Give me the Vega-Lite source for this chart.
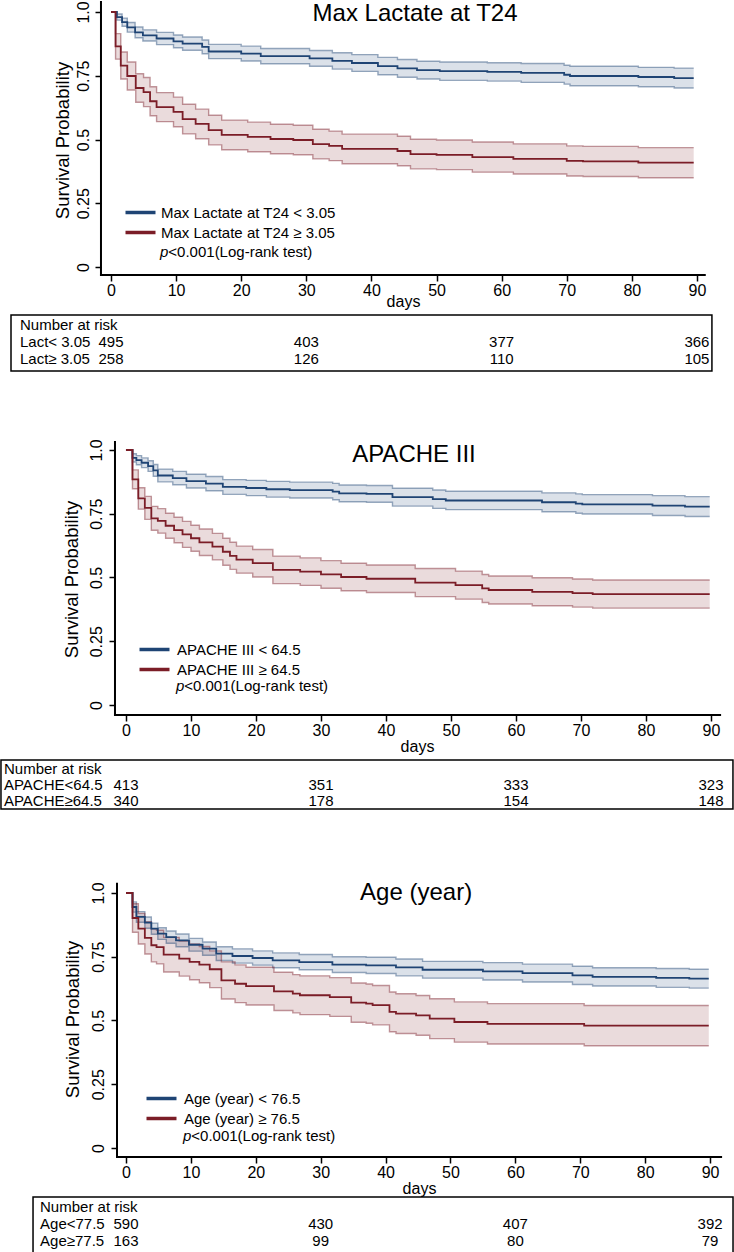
{
"$schema": "https://vega.github.io/schema/vega-lite/v6.json",
"padding": 0,
"autosize": {"type": "pad"},
"bounds": "flush",
"spacing": 0,
"resolve": {"scale": {"color": "independent", "fill": "independent", "stroke": "independent"}, "legend": {"color": "independent", "fill": "independent", "stroke": "independent"}},
"config": {"view": {"stroke": null}, "font": "Liberation Sans", "text": {"font": "Liberation Sans", "color": "black"}, "legend": {"labelFont": "Liberation Sans"}, "axis": {"labelFont": "Liberation Sans", "titleFont": "Liberation Sans"}},
"datasets": {
"km1": [
{"grp":"Max Lactate at T24 < 3.05","day":0,"s":1,"lo":1,"hi":1},
{"grp":"Max Lactate at T24 < 3.05","day":0.9,"s":0.98,"lo":0.968,"hi":0.992},
{"grp":"Max Lactate at T24 < 3.05","day":1.7,"s":0.96,"lo":0.944,"hi":0.976},
{"grp":"Max Lactate at T24 < 3.05","day":2.5,"s":0.94,"lo":0.921,"hi":0.959},
{"grp":"Max Lactate at T24 < 3.05","day":3.7,"s":0.92,"lo":0.899,"hi":0.941},
{"grp":"Max Lactate at T24 < 3.05","day":4.9,"s":0.908,"lo":0.886,"hi":0.93},
{"grp":"Max Lactate at T24 < 3.05","day":7,"s":0.896,"lo":0.872,"hi":0.92},
{"grp":"Max Lactate at T24 < 3.05","day":9.6,"s":0.885,"lo":0.86,"hi":0.91},
{"grp":"Max Lactate at T24 < 3.05","day":11,"s":0.876,"lo":0.85,"hi":0.902},
{"grp":"Max Lactate at T24 < 3.05","day":14,"s":0.863,"lo":0.836,"hi":0.89},
{"grp":"Max Lactate at T24 < 3.05","day":15,"s":0.845,"lo":0.817,"hi":0.873},
{"grp":"Max Lactate at T24 < 3.05","day":20,"s":0.837,"lo":0.808,"hi":0.866},
{"grp":"Max Lactate at T24 < 3.05","day":23,"s":0.827,"lo":0.797,"hi":0.857},
{"grp":"Max Lactate at T24 < 3.05","day":30.5,"s":0.818,"lo":0.787,"hi":0.849},
{"grp":"Max Lactate at T24 < 3.05","day":34,"s":0.808,"lo":0.776,"hi":0.84},
{"grp":"Max Lactate at T24 < 3.05","day":37,"s":0.8,"lo":0.767,"hi":0.833},
{"grp":"Max Lactate at T24 < 3.05","day":41,"s":0.788,"lo":0.754,"hi":0.822},
{"grp":"Max Lactate at T24 < 3.05","day":44,"s":0.779,"lo":0.744,"hi":0.814},
{"grp":"Max Lactate at T24 < 3.05","day":47,"s":0.772,"lo":0.737,"hi":0.807},
{"grp":"Max Lactate at T24 < 3.05","day":50.5,"s":0.768,"lo":0.732,"hi":0.804},
{"grp":"Max Lactate at T24 < 3.05","day":57.8,"s":0.765,"lo":0.729,"hi":0.801},
{"grp":"Max Lactate at T24 < 3.05","day":63,"s":0.761,"lo":0.724,"hi":0.798},
{"grp":"Max Lactate at T24 < 3.05","day":69.6,"s":0.754,"lo":0.717,"hi":0.791},
{"grp":"Max Lactate at T24 < 3.05","day":70.5,"s":0.749,"lo":0.711,"hi":0.787},
{"grp":"Max Lactate at T24 < 3.05","day":81,"s":0.745,"lo":0.707,"hi":0.783},
{"grp":"Max Lactate at T24 < 3.05","day":86.5,"s":0.741,"lo":0.702,"hi":0.78},
{"grp":"Max Lactate at T24 < 3.05","day":89.5,"s":0.741,"lo":0.702,"hi":0.78},
{"grp":"Max Lactate at T24 ≥ 3.05","day":0,"s":1,"lo":1,"hi":1},
{"grp":"Max Lactate at T24 ≥ 3.05","day":0.7,"s":0.865,"lo":0.815,"hi":0.915},
{"grp":"Max Lactate at T24 ≥ 3.05","day":1.5,"s":0.79,"lo":0.737,"hi":0.843},
{"grp":"Max Lactate at T24 ≥ 3.05","day":2.5,"s":0.749,"lo":0.694,"hi":0.804},
{"grp":"Max Lactate at T24 ≥ 3.05","day":3.8,"s":0.702,"lo":0.646,"hi":0.758},
{"grp":"Max Lactate at T24 ≥ 3.05","day":5,"s":0.686,"lo":0.629,"hi":0.743},
{"grp":"Max Lactate at T24 ≥ 3.05","day":6,"s":0.65,"lo":0.593,"hi":0.707},
{"grp":"Max Lactate at T24 ≥ 3.05","day":7,"s":0.627,"lo":0.57,"hi":0.684},
{"grp":"Max Lactate at T24 ≥ 3.05","day":9.6,"s":0.608,"lo":0.55,"hi":0.666},
{"grp":"Max Lactate at T24 ≥ 3.05","day":11,"s":0.58,"lo":0.522,"hi":0.638},
{"grp":"Max Lactate at T24 ≥ 3.05","day":13,"s":0.561,"lo":0.503,"hi":0.619},
{"grp":"Max Lactate at T24 ≥ 3.05","day":15,"s":0.537,"lo":0.479,"hi":0.595},
{"grp":"Max Lactate at T24 ≥ 3.05","day":17,"s":0.518,"lo":0.46,"hi":0.576},
{"grp":"Max Lactate at T24 ≥ 3.05","day":21,"s":0.51,"lo":0.452,"hi":0.568},
{"grp":"Max Lactate at T24 ≥ 3.05","day":24.5,"s":0.502,"lo":0.444,"hi":0.56},
{"grp":"Max Lactate at T24 ≥ 3.05","day":28,"s":0.498,"lo":0.44,"hi":0.556},
{"grp":"Max Lactate at T24 ≥ 3.05","day":31,"s":0.482,"lo":0.424,"hi":0.54},
{"grp":"Max Lactate at T24 ≥ 3.05","day":33.5,"s":0.475,"lo":0.417,"hi":0.533},
{"grp":"Max Lactate at T24 ≥ 3.05","day":35.5,"s":0.463,"lo":0.405,"hi":0.521},
{"grp":"Max Lactate at T24 ≥ 3.05","day":44,"s":0.455,"lo":0.397,"hi":0.513},
{"grp":"Max Lactate at T24 ≥ 3.05","day":46,"s":0.443,"lo":0.385,"hi":0.501},
{"grp":"Max Lactate at T24 ≥ 3.05","day":50,"s":0.44,"lo":0.382,"hi":0.498},
{"grp":"Max Lactate at T24 ≥ 3.05","day":55.5,"s":0.431,"lo":0.372,"hi":0.49},
{"grp":"Max Lactate at T24 ≥ 3.05","day":61.8,"s":0.424,"lo":0.365,"hi":0.483},
{"grp":"Max Lactate at T24 ≥ 3.05","day":70,"s":0.416,"lo":0.357,"hi":0.475},
{"grp":"Max Lactate at T24 ≥ 3.05","day":72.5,"s":0.414,"lo":0.355,"hi":0.473},
{"grp":"Max Lactate at T24 ≥ 3.05","day":81,"s":0.409,"lo":0.35,"hi":0.468},
{"grp":"Max Lactate at T24 ≥ 3.05","day":89.5,"s":0.409,"lo":0.35,"hi":0.468}
],
"km2": [
{"grp":"APACHE III < 64.5","day":0,"s":1,"lo":1,"hi":1},
{"grp":"APACHE III < 64.5","day":1,"s":0.969,"lo":0.953,"hi":0.985},
{"grp":"APACHE III < 64.5","day":1.6,"s":0.96,"lo":0.942,"hi":0.978},
{"grp":"APACHE III < 64.5","day":2.4,"s":0.95,"lo":0.931,"hi":0.969},
{"grp":"APACHE III < 64.5","day":3.4,"s":0.937,"lo":0.916,"hi":0.958},
{"grp":"APACHE III < 64.5","day":4.2,"s":0.92,"lo":0.897,"hi":0.943},
{"grp":"APACHE III < 64.5","day":4.9,"s":0.9,"lo":0.875,"hi":0.925},
{"grp":"APACHE III < 64.5","day":7.2,"s":0.89,"lo":0.864,"hi":0.916},
{"grp":"APACHE III < 64.5","day":9.3,"s":0.878,"lo":0.851,"hi":0.905},
{"grp":"APACHE III < 64.5","day":12.3,"s":0.868,"lo":0.84,"hi":0.896},
{"grp":"APACHE III < 64.5","day":14.9,"s":0.855,"lo":0.826,"hi":0.884},
{"grp":"APACHE III < 64.5","day":18.5,"s":0.851,"lo":0.821,"hi":0.881},
{"grp":"APACHE III < 64.5","day":21.6,"s":0.846,"lo":0.815,"hi":0.877},
{"grp":"APACHE III < 64.5","day":25.2,"s":0.843,"lo":0.812,"hi":0.874},
{"grp":"APACHE III < 64.5","day":31.8,"s":0.837,"lo":0.805,"hi":0.869},
{"grp":"APACHE III < 64.5","day":32.8,"s":0.83,"lo":0.797,"hi":0.863},
{"grp":"APACHE III < 64.5","day":37,"s":0.828,"lo":0.795,"hi":0.861},
{"grp":"APACHE III < 64.5","day":41,"s":0.815,"lo":0.78,"hi":0.85},
{"grp":"APACHE III < 64.5","day":47.2,"s":0.807,"lo":0.771,"hi":0.843},
{"grp":"APACHE III < 64.5","day":49.2,"s":0.802,"lo":0.766,"hi":0.838},
{"grp":"APACHE III < 64.5","day":64,"s":0.795,"lo":0.758,"hi":0.832},
{"grp":"APACHE III < 64.5","day":69.2,"s":0.79,"lo":0.752,"hi":0.828},
{"grp":"APACHE III < 64.5","day":70.2,"s":0.787,"lo":0.749,"hi":0.825},
{"grp":"APACHE III < 64.5","day":81,"s":0.782,"lo":0.743,"hi":0.821},
{"grp":"APACHE III < 64.5","day":86,"s":0.778,"lo":0.739,"hi":0.817},
{"grp":"APACHE III < 64.5","day":89.8,"s":0.778,"lo":0.739,"hi":0.817},
{"grp":"APACHE III ≥ 64.5","day":0,"s":1,"lo":1,"hi":1},
{"grp":"APACHE III ≥ 64.5","day":1,"s":0.885,"lo":0.848,"hi":0.922},
{"grp":"APACHE III ≥ 64.5","day":1.9,"s":0.81,"lo":0.768,"hi":0.852},
{"grp":"APACHE III ≥ 64.5","day":2.9,"s":0.773,"lo":0.728,"hi":0.818},
{"grp":"APACHE III ≥ 64.5","day":3.9,"s":0.732,"lo":0.685,"hi":0.779},
{"grp":"APACHE III ≥ 64.5","day":4.9,"s":0.722,"lo":0.674,"hi":0.77},
{"grp":"APACHE III ≥ 64.5","day":6.1,"s":0.703,"lo":0.654,"hi":0.752},
{"grp":"APACHE III ≥ 64.5","day":7.4,"s":0.686,"lo":0.636,"hi":0.736},
{"grp":"APACHE III ≥ 64.5","day":8.7,"s":0.669,"lo":0.618,"hi":0.72},
{"grp":"APACHE III ≥ 64.5","day":10,"s":0.654,"lo":0.603,"hi":0.705},
{"grp":"APACHE III ≥ 64.5","day":11.3,"s":0.638,"lo":0.586,"hi":0.69},
{"grp":"APACHE III ≥ 64.5","day":13.3,"s":0.621,"lo":0.569,"hi":0.673},
{"grp":"APACHE III ≥ 64.5","day":14.9,"s":0.601,"lo":0.548,"hi":0.654},
{"grp":"APACHE III ≥ 64.5","day":16,"s":0.585,"lo":0.532,"hi":0.638},
{"grp":"APACHE III ≥ 64.5","day":17,"s":0.57,"lo":0.517,"hi":0.623},
{"grp":"APACHE III ≥ 64.5","day":19.5,"s":0.556,"lo":0.502,"hi":0.61},
{"grp":"APACHE III ≥ 64.5","day":22.6,"s":0.53,"lo":0.476,"hi":0.584},
{"grp":"APACHE III ≥ 64.5","day":26.8,"s":0.523,"lo":0.469,"hi":0.577},
{"grp":"APACHE III ≥ 64.5","day":30,"s":0.512,"lo":0.458,"hi":0.566},
{"grp":"APACHE III ≥ 64.5","day":33.1,"s":0.502,"lo":0.448,"hi":0.556},
{"grp":"APACHE III ≥ 64.5","day":37,"s":0.495,"lo":0.441,"hi":0.549},
{"grp":"APACHE III ≥ 64.5","day":44.5,"s":0.48,"lo":0.425,"hi":0.535},
{"grp":"APACHE III ≥ 64.5","day":50.7,"s":0.47,"lo":0.415,"hi":0.525},
{"grp":"APACHE III ≥ 64.5","day":54.8,"s":0.457,"lo":0.402,"hi":0.512},
{"grp":"APACHE III ≥ 64.5","day":55.8,"s":0.451,"lo":0.396,"hi":0.506},
{"grp":"APACHE III ≥ 64.5","day":62.5,"s":0.444,"lo":0.389,"hi":0.499},
{"grp":"APACHE III ≥ 64.5","day":68.7,"s":0.439,"lo":0.384,"hi":0.494},
{"grp":"APACHE III ≥ 64.5","day":71.8,"s":0.435,"lo":0.38,"hi":0.49},
{"grp":"APACHE III ≥ 64.5","day":89.8,"s":0.435,"lo":0.38,"hi":0.49}
],
"km3": [
{"grp":"Age (year) < 76.5","day":0,"s":1,"lo":1,"hi":1},
{"grp":"Age (year) < 76.5","day":1,"s":0.945,"lo":0.925,"hi":0.965},
{"grp":"Age (year) < 76.5","day":1.6,"s":0.906,"lo":0.885,"hi":0.927},
{"grp":"Age (year) < 76.5","day":2.9,"s":0.884,"lo":0.862,"hi":0.906},
{"grp":"Age (year) < 76.5","day":3.9,"s":0.86,"lo":0.838,"hi":0.882},
{"grp":"Age (year) < 76.5","day":4.9,"s":0.841,"lo":0.818,"hi":0.864},
{"grp":"Age (year) < 76.5","day":6.2,"s":0.827,"lo":0.803,"hi":0.851},
{"grp":"Age (year) < 76.5","day":7.7,"s":0.814,"lo":0.789,"hi":0.839},
{"grp":"Age (year) < 76.5","day":9.7,"s":0.797,"lo":0.772,"hi":0.822},
{"grp":"Age (year) < 76.5","day":11.8,"s":0.782,"lo":0.756,"hi":0.808},
{"grp":"Age (year) < 76.5","day":13.9,"s":0.762,"lo":0.735,"hi":0.789},
{"grp":"Age (year) < 76.5","day":16.4,"s":0.753,"lo":0.725,"hi":0.781},
{"grp":"Age (year) < 76.5","day":19.5,"s":0.745,"lo":0.717,"hi":0.773},
{"grp":"Age (year) < 76.5","day":22.6,"s":0.736,"lo":0.707,"hi":0.765},
{"grp":"Age (year) < 76.5","day":26.7,"s":0.729,"lo":0.699,"hi":0.759},
{"grp":"Age (year) < 76.5","day":31.8,"s":0.719,"lo":0.688,"hi":0.75},
{"grp":"Age (year) < 76.5","day":37,"s":0.716,"lo":0.684,"hi":0.748},
{"grp":"Age (year) < 76.5","day":41.6,"s":0.708,"lo":0.675,"hi":0.741},
{"grp":"Age (year) < 76.5","day":45.7,"s":0.699,"lo":0.666,"hi":0.732},
{"grp":"Age (year) < 76.5","day":55,"s":0.693,"lo":0.659,"hi":0.727},
{"grp":"Age (year) < 76.5","day":61.1,"s":0.686,"lo":0.651,"hi":0.721},
{"grp":"Age (year) < 76.5","day":68.8,"s":0.677,"lo":0.641,"hi":0.713},
{"grp":"Age (year) < 76.5","day":71.9,"s":0.671,"lo":0.635,"hi":0.707},
{"grp":"Age (year) < 76.5","day":81.7,"s":0.667,"lo":0.63,"hi":0.704},
{"grp":"Age (year) < 76.5","day":86.8,"s":0.664,"lo":0.627,"hi":0.701},
{"grp":"Age (year) < 76.5","day":89.8,"s":0.664,"lo":0.627,"hi":0.701},
{"grp":"Age (year) ≥ 76.5","day":0,"s":1,"lo":1,"hi":1},
{"grp":"Age (year) ≥ 76.5","day":1,"s":0.902,"lo":0.846,"hi":0.958},
{"grp":"Age (year) ≥ 76.5","day":1.9,"s":0.86,"lo":0.8,"hi":0.92},
{"grp":"Age (year) ≥ 76.5","day":2.9,"s":0.824,"lo":0.761,"hi":0.887},
{"grp":"Age (year) ≥ 76.5","day":3.9,"s":0.795,"lo":0.73,"hi":0.86},
{"grp":"Age (year) ≥ 76.5","day":4.7,"s":0.788,"lo":0.722,"hi":0.854},
{"grp":"Age (year) ≥ 76.5","day":5.8,"s":0.758,"lo":0.69,"hi":0.826},
{"grp":"Age (year) ≥ 76.5","day":8.2,"s":0.743,"lo":0.674,"hi":0.812},
{"grp":"Age (year) ≥ 76.5","day":9.8,"s":0.73,"lo":0.66,"hi":0.8},
{"grp":"Age (year) ≥ 76.5","day":11.3,"s":0.719,"lo":0.648,"hi":0.79},
{"grp":"Age (year) ≥ 76.5","day":12.9,"s":0.701,"lo":0.629,"hi":0.773},
{"grp":"Age (year) ≥ 76.5","day":14.7,"s":0.657,"lo":0.584,"hi":0.73},
{"grp":"Age (year) ≥ 76.5","day":16.8,"s":0.644,"lo":0.57,"hi":0.718},
{"grp":"Age (year) ≥ 76.5","day":18.5,"s":0.635,"lo":0.561,"hi":0.709},
{"grp":"Age (year) ≥ 76.5","day":22.8,"s":0.614,"lo":0.539,"hi":0.689},
{"grp":"Age (year) ≥ 76.5","day":25.7,"s":0.605,"lo":0.53,"hi":0.68},
{"grp":"Age (year) ≥ 76.5","day":26.8,"s":0.599,"lo":0.523,"hi":0.675},
{"grp":"Age (year) ≥ 76.5","day":31.4,"s":0.592,"lo":0.516,"hi":0.668},
{"grp":"Age (year) ≥ 76.5","day":34.7,"s":0.57,"lo":0.493,"hi":0.647},
{"grp":"Age (year) ≥ 76.5","day":37,"s":0.566,"lo":0.489,"hi":0.643},
{"grp":"Age (year) ≥ 76.5","day":38,"s":0.56,"lo":0.483,"hi":0.637},
{"grp":"Age (year) ≥ 76.5","day":40.6,"s":0.534,"lo":0.456,"hi":0.612},
{"grp":"Age (year) ≥ 76.5","day":41.6,"s":0.527,"lo":0.449,"hi":0.605},
{"grp":"Age (year) ≥ 76.5","day":44.7,"s":0.52,"lo":0.442,"hi":0.598},
{"grp":"Age (year) ≥ 76.5","day":46.8,"s":0.507,"lo":0.429,"hi":0.585},
{"grp":"Age (year) ≥ 76.5","day":50.6,"s":0.494,"lo":0.415,"hi":0.573},
{"grp":"Age (year) ≥ 76.5","day":55.7,"s":0.487,"lo":0.408,"hi":0.566},
{"grp":"Age (year) ≥ 76.5","day":70.6,"s":0.48,"lo":0.401,"hi":0.559},
{"grp":"Age (year) ≥ 76.5","day":89.8,"s":0.48,"lo":0.401,"hi":0.559}
],
"lab1": [{"row":"h","label":"Number at risk"},{"row":"r1","label":"Lact< 3.05"},{"row":"r2","label":"Lact≥ 3.05"}],
"num1": [{"row":"r1","day":0,"n":"495"},{"row":"r1","day":30,"n":"403"},{"row":"r1","day":60,"n":"377"},{"row":"r1","day":90,"n":"366"},{"row":"r2","day":0,"n":"258"},{"row":"r2","day":30,"n":"126"},{"row":"r2","day":60,"n":"110"},{"row":"r2","day":90,"n":"105"}],
"lab2": [{"row":"h","label":"Number at risk"},{"row":"r1","label":"APACHE<64.5"},{"row":"r2","label":"APACHE≥64.5"}],
"num2": [{"row":"r1","day":0,"n":"413"},{"row":"r1","day":30,"n":"351"},{"row":"r1","day":60,"n":"333"},{"row":"r1","day":90,"n":"323"},{"row":"r2","day":0,"n":"340"},{"row":"r2","day":30,"n":"178"},{"row":"r2","day":60,"n":"154"},{"row":"r2","day":90,"n":"148"}],
"lab3": [{"row":"h","label":"Number at risk"},{"row":"r1","label":"Age<77.5"},{"row":"r2","label":"Age≥77.5"}],
"num3": [{"row":"r1","day":0,"n":"590"},{"row":"r1","day":30,"n":"430"},{"row":"r1","day":60,"n":"407"},{"row":"r1","day":90,"n":"392"},{"row":"r2","day":0,"n":"163"},{"row":"r2","day":30,"n":"99"},{"row":"r2","day":60,"n":"80"},{"row":"r2","day":90,"n":"79"}]
},
"vconcat": [
{
"width": 734, "height": 313,
"data": {"name": "km1"},
"layer": [
{"mark": {"type": "area", "interpolate": "step-after", "opacity": 0.16},
 "encoding": {
  "x": {"field": "day", "type": "quantitative", "scale": {"domain": [-17.05, 95.69], "nice": false, "zero": false}},
  "y": {"field": "lo", "type": "quantitative", "scale": {"domain": [-0.1882, 1.0392], "nice": false, "zero": false}},
  "y2": {"field": "hi"},
  "fill": {"field": "grp", "type": "nominal", "scale": {"domain": ["Max Lactate at T24 ≥ 3.05", "Max Lactate at T24 < 3.05"], "range": ["#7b1d27", "#1f4474"]}, "legend": null}}},
{"mark": {"type": "line", "interpolate": "step-after", "opacity": 0.45, "strokeWidth": 1.4},
 "encoding": {
  "x": {"field": "day", "type": "quantitative"},
  "y": {"field": "lo", "type": "quantitative"},
  "stroke": {"field": "grp", "type": "nominal", "scale": {"domain": ["Max Lactate at T24 ≥ 3.05", "Max Lactate at T24 < 3.05"], "range": ["#7b1d27", "#1f4474"]}, "legend": null}}},
{"mark": {"type": "line", "interpolate": "step-after", "opacity": 0.45, "strokeWidth": 1.4},
 "encoding": {
  "x": {"field": "day", "type": "quantitative"},
  "y": {"field": "hi", "type": "quantitative"},
  "stroke": {"field": "grp", "type": "nominal", "legend": null}}},
{"mark": {"type": "line", "interpolate": "step-after", "strokeWidth": 1.8},
 "encoding": {
  "x": {"field": "day", "type": "quantitative", "scale": {"domain": [-17.05, 95.69], "nice": false, "zero": false},
   "axis": {"values": [0,10,20,30,40,50,60,70,80,90], "offset": -40, "domain": false, "grid": false, "tickSize": 6, "tickWidth": 1.5, "tickColor": "black", "labelFontSize": 16, "labelColor": "black", "labelPadding": 1, "labelFlush": false, "labelOverlap": false, "title": "days", "titleFontSize": 16, "titleFontWeight": "normal", "titleColor": "black", "titlePadding": -5, "titleX": 403}},
  "y": {"field": "s", "type": "quantitative", "scale": {"domain": [-0.1882, 1.0392], "nice": false, "zero": false},
   "axis": {"values": [0,0.25,0.5,0.75,1], "labelExpr": "datum.value == 1 ? '1.0' : toString(datum.value)", "offset": -101, "domain": false, "grid": false, "tickSize": 6, "tickWidth": 1.5, "tickColor": "black", "labelAngle": 270, "labelAlign": "center", "labelBaseline": "alphabetic", "labelPadding": 7, "labelFontSize": 16, "labelColor": "black", "labelFlush": false, "labelOverlap": false, "title": "Survival Probability", "titleFontSize": 18.5, "titleFontWeight": "normal", "titleColor": "black", "titlePadding": 3, "titleY": 138}},
  "color": {"field": "grp", "type": "nominal", "scale": {"domain": ["Max Lactate at T24 < 3.05", "Max Lactate at T24 ≥ 3.05"], "range": ["#1f4474", "#7b1d27"]},
   "legend": {"orient": "none", "legendX": 133, "legendY": 203, "title": null, "symbolType": "M-3,0H3", "symbolSize": 100, "symbolStrokeWidth": 3.5, "symbolOpacity": 1, "labelFontSize": 15, "labelColor": "black", "labelOffset": 13, "rowPadding": 4, "padding": 0, "labelLimit": 400}}}},
{"data": {"values": [{}]}, "mark": {"type": "rule", "strokeWidth": 2, "color": "black", "strokeCap": "square"},
 "encoding": {"x": {"datum": -1.54, "type": "quantitative"}, "y": {"datum": -0.0314, "type": "quantitative"}, "y2": {"datum": 1.0392}}},
{"data": {"values": [{}]}, "mark": {"type": "rule", "strokeWidth": 2, "color": "black", "strokeCap": "square"},
 "encoding": {"x": {"datum": -1.54, "type": "quantitative"}, "x2": {"datum": 91.2}, "y": {"datum": -0.0314, "type": "quantitative"}}},
{"data": {"values": [{"t": "Max Lactate at T24"}]}, "mark": {"type": "text", "fontSize": 24, "align": "center", "baseline": "alphabetic"},
 "encoding": {"x": {"datum": 46.7, "type": "quantitative"}, "y": {"datum": 0.965, "type": "quantitative"}, "text": {"field": "t"}}},
{"data": {"values": [{"t": "p"}]}, "mark": {"type": "text", "fontSize": 15, "fontStyle": "italic", "align": "left", "baseline": "middle"},
 "encoding": {"x": {"datum": 7.53, "type": "quantitative"}, "y": {"datum": 0.0588, "type": "quantitative"}, "text": {"field": "t"}}},
{"data": {"values": [{"t": "<0.001(Log-rank test)"}]}, "mark": {"type": "text", "fontSize": 15, "align": "left", "baseline": "middle", "dx": 8.3},
 "encoding": {"x": {"datum": 7.53, "type": "quantitative"}, "y": {"datum": 0.0588, "type": "quantitative"}, "text": {"field": "t"}}}
]
},
{
"width": 734, "height": 56,
"layer": [
{"data": {"values": [{}]}, "mark": {"type": "rect", "filled": false, "stroke": "black", "strokeWidth": 1.5},
 "encoding": {"x": {"datum": -15.36, "type": "quantitative", "scale": {"domain": [-17.05, 95.69], "nice": false, "zero": false}, "axis": null}, "x2": {"datum": 92.3}}},
{"data": {"name": "lab1"}, "mark": {"type": "text", "align": "left", "baseline": "middle", "fontSize": 15},
 "encoding": {"x": {"datum": -13.98, "type": "quantitative", "axis": null}, "y": {"field": "row", "type": "nominal", "scale": {"type": "point", "domain": ["h", "r1", "r2"], "range": [10, 44], "padding": 0}, "axis": null}, "text": {"field": "label"}}},
{"data": {"name": "num1"}, "mark": {"type": "text", "align": "center", "baseline": "middle", "fontSize": 15},
 "encoding": {"x": {"field": "day", "type": "quantitative", "axis": null}, "y": {"field": "row", "type": "nominal", "axis": null}, "text": {"field": "n"}}}
]
},
{
"width": 734, "height": 389,
"data": {"name": "km2"},
"layer": [
{"mark": {"type": "area", "interpolate": "step-after", "opacity": 0.16},
 "encoding": {
  "x": {"field": "day", "type": "quantitative", "scale": {"domain": [-19.38, 93.54], "nice": false, "zero": false}},
  "y": {"field": "lo", "type": "quantitative", "scale": {"domain": [-0.2157, 1.3098], "nice": false, "zero": false}},
  "y2": {"field": "hi"},
  "fill": {"field": "grp", "type": "nominal", "scale": {"domain": ["APACHE III ≥ 64.5", "APACHE III < 64.5"], "range": ["#7b1d27", "#1f4474"]}, "legend": null}}},
{"mark": {"type": "line", "interpolate": "step-after", "opacity": 0.45, "strokeWidth": 1.4},
 "encoding": {
  "x": {"field": "day", "type": "quantitative"},
  "y": {"field": "lo", "type": "quantitative"},
  "stroke": {"field": "grp", "type": "nominal", "scale": {"domain": ["APACHE III ≥ 64.5", "APACHE III < 64.5"], "range": ["#7b1d27", "#1f4474"]}, "legend": null}}},
{"mark": {"type": "line", "interpolate": "step-after", "opacity": 0.45, "strokeWidth": 1.4},
 "encoding": {
  "x": {"field": "day", "type": "quantitative"},
  "y": {"field": "hi", "type": "quantitative"},
  "stroke": {"field": "grp", "type": "nominal", "legend": null}}},
{"mark": {"type": "line", "interpolate": "step-after", "strokeWidth": 1.8},
 "encoding": {
  "x": {"field": "day", "type": "quantitative", "scale": {"domain": [-19.38, 93.54], "nice": false, "zero": false},
   "axis": {"values": [0,10,20,30,40,50,60,70,80,90], "offset": -45, "domain": false, "grid": false, "tickSize": 6, "tickWidth": 1.5, "tickColor": "black", "labelFontSize": 16, "labelColor": "black", "labelPadding": 1, "labelFlush": false, "labelOverlap": false, "title": "days", "titleFontSize": 16, "titleFontWeight": "normal", "titleColor": "black", "titlePadding": 0, "titleX": 417}},
  "y": {"field": "s", "type": "quantitative", "scale": {"domain": [-0.2157, 1.3098], "nice": false, "zero": false},
   "axis": {"values": [0,0.25,0.5,0.75,1], "labelExpr": "datum.value == 1 ? '1.0' : toString(datum.value)", "offset": -115, "domain": false, "grid": false, "tickSize": 6, "tickWidth": 1.5, "tickColor": "black", "labelAngle": 270, "labelAlign": "center", "labelBaseline": "alphabetic", "labelPadding": 8, "labelFontSize": 16, "labelColor": "black", "labelFlush": false, "labelOverlap": false, "title": "Survival Probability", "titleFontSize": 18.5, "titleFontWeight": "normal", "titleColor": "black", "titlePadding": 7, "titleY": 208}},
  "color": {"field": "grp", "type": "nominal", "scale": {"domain": ["APACHE III < 64.5", "APACHE III ≥ 64.5"], "range": ["#1f4474", "#7b1d27"]},
   "legend": {"orient": "none", "legendX": 147, "legendY": 271, "title": null, "symbolType": "M-3,0H3", "symbolSize": 100, "symbolStrokeWidth": 3.5, "symbolOpacity": 1, "labelFontSize": 15, "labelColor": "black", "labelOffset": 15, "rowPadding": 4, "padding": 0, "labelLimit": 400}}}},
{"data": {"values": [{}]}, "mark": {"type": "rule", "strokeWidth": 2, "color": "black", "strokeCap": "square"},
 "encoding": {"x": {"datum": -1.69, "type": "quantitative"}, "y": {"datum": -0.0392, "type": "quantitative"}, "y2": {"datum": 1.0314}}},
{"data": {"values": [{}]}, "mark": {"type": "rule", "strokeWidth": 2, "color": "black", "strokeCap": "square"},
 "encoding": {"x": {"datum": -1.69, "type": "quantitative"}, "x2": {"datum": 91.4}, "y": {"datum": -0.0392, "type": "quantitative"}}},
{"data": {"values": [{"t": "APACHE III"}]}, "mark": {"type": "text", "fontSize": 24, "align": "center", "baseline": "alphabetic"},
 "encoding": {"x": {"datum": 44.3, "type": "quantitative"}, "y": {"datum": 0.953, "type": "quantitative"}, "text": {"field": "t"}}},
{"data": {"values": [{"t": "p"}]}, "mark": {"type": "text", "fontSize": 15, "fontStyle": "italic", "align": "left", "baseline": "middle"},
 "encoding": {"x": {"datum": 7.69, "type": "quantitative"}, "y": {"datum": 0.0745, "type": "quantitative"}, "text": {"field": "t"}}},
{"data": {"values": [{"t": "<0.001(Log-rank test)"}]}, "mark": {"type": "text", "fontSize": 15, "align": "left", "baseline": "middle", "dx": 8.3},
 "encoding": {"x": {"datum": 7.69, "type": "quantitative"}, "y": {"datum": 0.0745, "type": "quantitative"}, "text": {"field": "t"}}}
]
},
{
"width": 734, "height": 49,
"layer": [
{"data": {"values": [{}]}, "mark": {"type": "rect", "filled": false, "stroke": "black", "strokeWidth": 1.5},
 "encoding": {"x": {"datum": -19.23, "type": "quantitative", "scale": {"domain": [-19.38, 93.54], "nice": false, "zero": false}, "axis": null}, "x2": {"datum": 93.38}}},
{"data": {"name": "lab2"}, "mark": {"type": "text", "align": "left", "baseline": "middle", "fontSize": 15},
 "encoding": {"x": {"datum": -18.77, "type": "quantitative", "axis": null}, "y": {"field": "row", "type": "nominal", "scale": {"type": "point", "domain": ["h", "r1", "r2"], "range": [9, 41], "padding": 0}, "axis": null}, "text": {"field": "label"}}},
{"data": {"name": "num2"}, "mark": {"type": "text", "align": "center", "baseline": "middle", "fontSize": 15},
 "encoding": {"x": {"field": "day", "type": "quantitative", "axis": null}, "y": {"field": "row", "type": "nominal", "axis": null}, "text": {"field": "n"}}}
]
},
{
"width": 734, "height": 388,
"data": {"name": "km3"},
"layer": [
{"mark": {"type": "area", "interpolate": "step-after", "opacity": 0.16},
 "encoding": {
  "x": {"field": "day", "type": "quantitative", "scale": {"domain": [-19.42, 93.69], "nice": false, "zero": false}},
  "y": {"field": "lo", "type": "quantitative", "scale": {"domain": [-0.1922, 1.3294], "nice": false, "zero": false}},
  "y2": {"field": "hi"},
  "fill": {"field": "grp", "type": "nominal", "scale": {"domain": ["Age (year) ≥ 76.5", "Age (year) < 76.5"], "range": ["#7b1d27", "#1f4474"]}, "legend": null}}},
{"mark": {"type": "line", "interpolate": "step-after", "opacity": 0.45, "strokeWidth": 1.4},
 "encoding": {
  "x": {"field": "day", "type": "quantitative"},
  "y": {"field": "lo", "type": "quantitative"},
  "stroke": {"field": "grp", "type": "nominal", "scale": {"domain": ["Age (year) ≥ 76.5", "Age (year) < 76.5"], "range": ["#7b1d27", "#1f4474"]}, "legend": null}}},
{"mark": {"type": "line", "interpolate": "step-after", "opacity": 0.45, "strokeWidth": 1.4},
 "encoding": {
  "x": {"field": "day", "type": "quantitative"},
  "y": {"field": "hi", "type": "quantitative"},
  "stroke": {"field": "grp", "type": "nominal", "legend": null}}},
{"mark": {"type": "line", "interpolate": "step-after", "strokeWidth": 1.8},
 "encoding": {
  "x": {"field": "day", "type": "quantitative", "scale": {"domain": [-19.42, 93.69], "nice": false, "zero": false},
   "axis": {"values": [0,10,20,30,40,50,60,70,80,90], "offset": -40, "domain": false, "grid": false, "tickSize": 6, "tickWidth": 1.5, "tickColor": "black", "labelFontSize": 16, "labelColor": "black", "labelPadding": 1, "labelFlush": false, "labelOverlap": false, "title": "days", "titleFontSize": 16, "titleFontWeight": "normal", "titleColor": "black", "titlePadding": 0, "titleX": 419}},
  "y": {"field": "s", "type": "quantitative", "scale": {"domain": [-0.1922, 1.3294], "nice": false, "zero": false},
   "axis": {"values": [0,0.25,0.5,0.75,1], "labelExpr": "datum.value == 1 ? '1.0' : toString(datum.value)", "offset": -117, "domain": false, "grid": false, "tickSize": 6, "tickWidth": 1.5, "tickColor": "black", "labelAngle": 270, "labelAlign": "center", "labelBaseline": "alphabetic", "labelPadding": 8, "labelFontSize": 16, "labelColor": "black", "labelFlush": false, "labelOverlap": false, "title": "Survival Probability", "titleFontSize": 18.5, "titleFontWeight": "normal", "titleColor": "black", "titlePadding": 8, "titleY": 210}},
  "color": {"field": "grp", "type": "nominal", "scale": {"domain": ["Age (year) < 76.5", "Age (year) ≥ 76.5"], "range": ["#1f4474", "#7b1d27"]},
   "legend": {"orient": "none", "legendX": 154, "legendY": 282, "title": null, "symbolType": "M-3,0H3", "symbolSize": 100, "symbolStrokeWidth": 3.5, "symbolOpacity": 1, "labelFontSize": 15, "labelColor": "black", "labelOffset": 15, "rowPadding": 4, "padding": 0, "labelLimit": 400}}}},
{"data": {"values": [{}]}, "mark": {"type": "rule", "strokeWidth": 2, "color": "black", "strokeCap": "square"},
 "encoding": {"x": {"datum": -1.39, "type": "quantitative"}, "y": {"datum": -0.0353, "type": "quantitative"}, "y2": {"datum": 1.0365}}},
{"data": {"values": [{}]}, "mark": {"type": "rule", "strokeWidth": 2, "color": "black", "strokeCap": "square"},
 "encoding": {"x": {"datum": -1.39, "type": "quantitative"}, "x2": {"datum": 91.7}, "y": {"datum": -0.0353, "type": "quantitative"}}},
{"data": {"values": [{"t": "Age (year)"}]}, "mark": {"type": "text", "fontSize": 24, "align": "center", "baseline": "alphabetic"},
 "encoding": {"x": {"datum": 44.7, "type": "quantitative"}, "y": {"datum": 0.9725, "type": "quantitative"}, "text": {"field": "t"}}},
{"data": {"values": [{"t": "p"}]}, "mark": {"type": "text", "fontSize": 15, "fontStyle": "italic", "align": "left", "baseline": "middle"},
 "encoding": {"x": {"datum": 8.78, "type": "quantitative"}, "y": {"datum": 0.047, "type": "quantitative"}, "text": {"field": "t"}}},
{"data": {"values": [{"t": "<0.001(Log-rank test)"}]}, "mark": {"type": "text", "fontSize": 15, "align": "left", "baseline": "middle", "dx": 8.3},
 "encoding": {"x": {"datum": 8.78, "type": "quantitative"}, "y": {"datum": 0.047, "type": "quantitative"}, "text": {"field": "t"}}}
]
},
{
"width": 734, "height": 56,
"layer": [
{"data": {"values": [{}]}, "mark": {"type": "rect", "filled": false, "stroke": "black", "strokeWidth": 1.5},
 "encoding": {"x": {"datum": -14.33, "type": "quantitative", "scale": {"domain": [-19.42, 93.69], "nice": false, "zero": false}, "axis": null}, "x2": {"datum": 93.54}}},
{"data": {"name": "lab3"}, "mark": {"type": "text", "align": "left", "baseline": "middle", "fontSize": 15},
 "encoding": {"x": {"datum": -13.25, "type": "quantitative", "axis": null}, "y": {"field": "row", "type": "nominal", "scale": {"type": "point", "domain": ["h", "r1", "r2"], "range": [10, 44], "padding": 0}, "axis": null}, "text": {"field": "label"}}},
{"data": {"name": "num3"}, "mark": {"type": "text", "align": "center", "baseline": "middle", "fontSize": 15},
 "encoding": {"x": {"field": "day", "type": "quantitative", "axis": null}, "y": {"field": "row", "type": "nominal", "axis": null}, "text": {"field": "n"}}}
]
}
]
}
